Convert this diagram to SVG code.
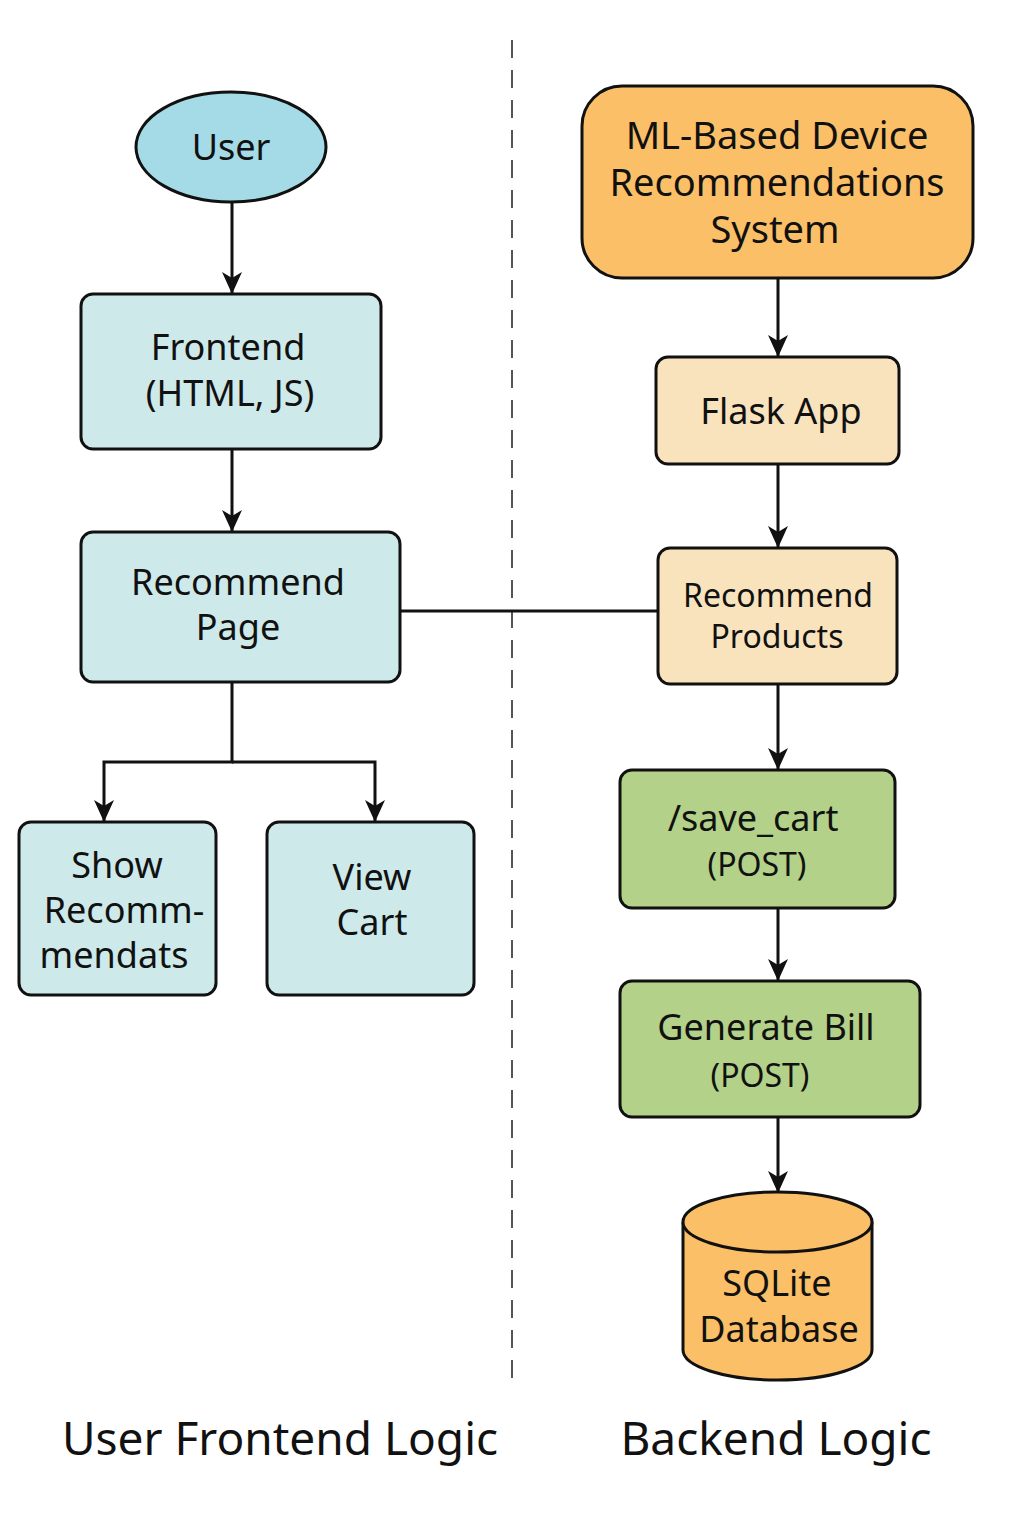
<svg xmlns="http://www.w3.org/2000/svg" width="1024" height="1536" viewBox="0 0 1024 1536">
<defs>
<style>
.n{stroke:#111;stroke-width:3}
.blue{fill:#cde9ea}
.orange{fill:#fbbf68}
.beige{fill:#f9e3bd}
.green{fill:#b3d189}
text{font-family:"Noto Sans","Liberation Sans",sans-serif;fill:#111;text-anchor:middle}
.t{font-size:36px}
.m{font-size:38px}
.s{font-size:32px}
.big{font-size:46px}
.c{stroke:#111;stroke-width:3;fill:none}
</style>
<marker id="ah" markerWidth="22" markerHeight="22" refX="21" refY="11" orient="auto" markerUnits="userSpaceOnUse">
<path d="M0,1 L22,11 L0,21 L6,11 Z" fill="#111"/>
</marker>
</defs>
<rect width="1024" height="1536" fill="#fff"/>
<line x1="512" y1="40" x2="512" y2="1385" stroke="#555" stroke-width="2" stroke-dasharray="18,12"/>

<g id="connectors">
<line class="c" x1="232" y1="203" x2="232" y2="293" marker-end="url(#ah)"/>
<line class="c" x1="232" y1="450" x2="232" y2="531" marker-end="url(#ah)"/>
<polyline class="c" points="232,683 232,762 104,762 104,821" marker-end="url(#ah)"/>
<polyline class="c" points="232,762 375,762 375,821" marker-end="url(#ah)"/>
<line class="c" x1="400" y1="611" x2="658" y2="611"/>
<line class="c" x1="778" y1="279" x2="778" y2="356" marker-end="url(#ah)"/>
<line class="c" x1="778" y1="465" x2="778" y2="547" marker-end="url(#ah)"/>
<line class="c" x1="778" y1="685" x2="778" y2="769" marker-end="url(#ah)"/>
<line class="c" x1="778" y1="909" x2="778" y2="980" marker-end="url(#ah)"/>
<line class="c" x1="778" y1="1118" x2="778" y2="1192" marker-end="url(#ah)"/>
</g>

<g id="user">
<ellipse class="n" cx="231" cy="147" rx="95" ry="55" fill="#a5dbe6"/>
<text class="t" x="231" y="160">User</text>
</g>
<g id="frontend">
<rect class="n blue" x="81" y="294" width="300" height="155" rx="12"/>
<text class="t" x="228" y="360">Frontend</text>
<text class="t" x="230" y="406">(HTML, JS)</text>
</g>
<g id="recommend-page">
<rect class="n blue" x="81" y="532" width="319" height="150" rx="12"/>
<text class="t" x="238" y="595">Recommend</text>
<text class="t" x="238" y="640">Page</text>
</g>
<g id="show-recommendations">
<rect class="n blue" x="19" y="822" width="197" height="173" rx="12"/>
<text class="t" x="117" y="878">Show</text>
<text class="t" x="124" y="923">Recomm-</text>
<text class="t" x="114" y="968">mendats</text>
</g>
<g id="view-cart">
<rect class="n blue" x="267" y="822" width="207" height="173" rx="12"/>
<text class="t" x="372" y="890">View</text>
<text class="t" x="372" y="935">Cart</text>
</g>

<g id="ml-system">
<rect class="n orange" x="582" y="86" width="391" height="192" rx="40"/>
<text class="m" x="777" y="149">ML-Based Device</text>
<text class="m" x="777" y="196">Recommendations</text>
<text class="m" x="775" y="243">System</text>
</g>
<g id="flask-app">
<rect class="n beige" x="656" y="357" width="243" height="107" rx="12"/>
<text class="t" x="781" y="424">Flask App</text>
</g>
<g id="recommend-products">
<rect class="n beige" x="658" y="548" width="239" height="136" rx="12"/>
<text class="s" x="778" y="607">Recommend</text>
<text class="s" x="777" y="648">Products</text>
</g>
<g id="save-cart">
<rect class="n green" x="620" y="770" width="275" height="138" rx="12"/>
<text class="t" x="753" y="831">/save_cart</text>
<text class="s" x="757" y="876">(POST)</text>
</g>
<g id="generate-bill">
<rect class="n green" x="620" y="981" width="300" height="136" rx="12"/>
<text class="t" x="766" y="1040">Generate Bill</text>
<text class="s" x="760" y="1087">(POST)</text>
</g>
<g id="sqlite-db">
<path class="n orange" d="M683,1222 L683,1350 A94.5,30 0 0 0 872,1350 L872,1222"/>
<ellipse class="n orange" cx="777.5" cy="1222" rx="94.5" ry="30"/>
<text class="t" x="777" y="1296">SQLite</text>
<text class="t" x="779" y="1342">Database</text>
</g>

<text class="big" x="280" y="1455">User Frontend Logic</text>
<text class="big" x="776" y="1455">Backend Logic</text>
</svg>
